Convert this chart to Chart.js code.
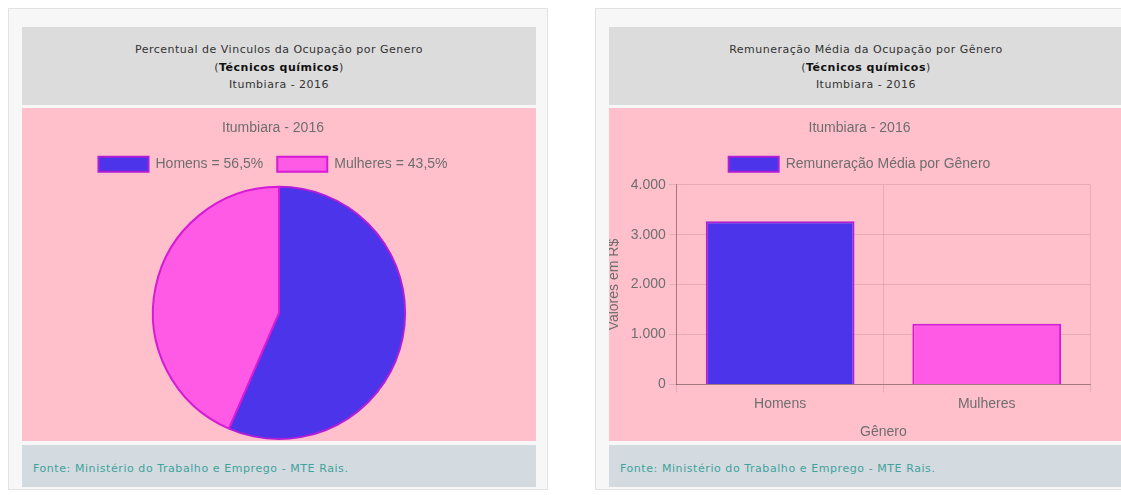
<!DOCTYPE html>
<html lang="pt-BR">
<head>
<meta charset="utf-8">
<title>Técnicos químicos - Itumbiara - 2016</title>
<script src="https://cdn.jsdelivr.net/npm/chart.js@4/dist/chart.umd.min.js"></script>
<style>
  html, body { margin: 0; padding: 0; background: #ffffff; }
  body { width: 1121px; height: 495px; position: relative; overflow: hidden; }
  .card {
    position: absolute; top: 8px; height: 482px; width: 540px;
    background: #f7f7f7; border: 1px solid #e2e2e2; box-sizing: border-box;
  }
  .head {
    position: absolute; left: 13px; top: 18px; width: 514px; height: 78px;
    background: #dcdcdc; text-align: center;
    font-family: "DejaVu Sans", Verdana, sans-serif; font-size: 11px; letter-spacing: 0.5px; color: #333;
    line-height: 17.5px; padding-top: 14px; box-sizing: border-box;
  }
  .head b { color: #111; }
  .body {
    position: absolute; left: 13px; top: 99px; width: 514px; height: 333px;
    background: #ffc0cb;
  }
  .body canvas { margin-top: 2px; }
  .foot {
    position: absolute; left: 13px; top: 436px; width: 514px; height: 42px;
    background: #d3dae0;
    font-family: "DejaVu Sans", Verdana, sans-serif; font-size: 11px; letter-spacing: 0.57px; color: #3fa39c;
    line-height: 42px; padding-left: 11px; padding-top: 3px; box-sizing: border-box;
  }
  canvas { display: block; }
</style>
</head>
<body>
<div class="card" style="left:8px;">
  <div class="head">Percentual de Vinculos da Ocupação por Genero<br>(<b>Técnicos químicos</b>)<br>Itumbiara - 2016</div>
  <div class="body"><canvas id="pie" width="514" height="331"></canvas></div>
  <div class="foot">Fonte: Ministério do Trabalho e Emprego - MTE Rais.</div>
</div>
<div class="card" style="left:595px; width:540px;">
  <div class="head">Remuneração Média da Ocupação por Gênero<br>(<b>Técnicos químicos</b>)<br>Itumbiara - 2016</div>
  <div class="body"><canvas id="bar" width="514" height="331"></canvas></div>
  <div class="foot">Fonte: Ministério do Trabalho e Emprego - MTE Rais.</div>
</div>
<script>
// Dados: Técnicos químicos, Itumbiara, 2016
const chartTitle = 'Itumbiara - 2016';
const genders = ['Homens', 'Mulheres'];
const sharePercent = [56.5, 43.5];
const avgWage = [3270, 1215];
const wageTicks = [0, 1000, 2000, 3000, 4000];
const barSeriesLabel = 'Remuneração Média por Gênero';

const fillColors = ['#4b34ea', '#ff5ae6'];
const edgeColors = ['#b21dd6', '#d61ad6'];
const textColor = '#6e6e6e';
const fontFamily = '"Liberation Sans", Arial, Helvetica, sans-serif';

Chart.defaults.font.family = fontFamily;
Chart.defaults.font.size = 14;
Chart.defaults.color = textColor;
Chart.defaults.animation = false;

function brNumber(v) {
  return String(Math.round(v)).replace(/\B(?=(\d{3})+(?!\d))/g, '.');
}
function brPercent(v) {
  return v.toFixed(1).replace('.', ',') + '%';
}

// Extra space under the legend and a horizontal nudge for title/legend blocks
const headerTweaks = {
  id: 'headerTweaks',
  beforeInit(chart, args, opts) {
    const legend = chart.legend;
    if (legend && opts.legendGap) {
      const fit = legend.fit;
      legend.fit = function () { fit.call(this); this.height += opts.legendGap; };
    }
  },
  afterLayout(chart, args, opts) {
    const dx = opts.dx || 0;
    for (const block of [chart.titleBlock, chart.legend]) {
      if (block && dx) { block.left += dx; block.right += dx; }
    }
  }
};

const titleOptions = {
  display: true, text: chartTitle, color: textColor,
  font: { size: 14, weight: 'normal' },
  padding: { top: 0, bottom: 6 }
};

new Chart(document.getElementById('pie'), {
  type: 'pie',
  data: {
    labels: genders.map((g, i) => g + ' = ' + brPercent(sharePercent[i])),
    datasets: [{
      data: sharePercent,
      backgroundColor: fillColors,
      borderColor: edgeColors,
      borderWidth: 2
    }]
  },
  plugins: [headerTweaks],
  options: {
    responsive: false,
    layout: { padding: { top: 10, bottom: 1 } },
    plugins: {
      headerTweaks: { legendGap: 4, dx: -6 },
      title: titleOptions,
      legend: {
        position: 'top',
        labels: { boxWidth: 50, boxHeight: 15, padding: 14, font: { size: 14 } }
      },
      tooltip: { enabled: false }
    }
  }
});

new Chart(document.getElementById('bar'), {
  type: 'bar',
  data: {
    labels: genders,
    datasets: [{
      label: barSeriesLabel,
      data: avgWage,
      backgroundColor: fillColors,
      borderColor: edgeColors,
      borderWidth: 2
    }]
  },
  plugins: [headerTweaks],
  options: {
    responsive: false,
    layout: { padding: { top: 10, right: 33, bottom: 0, left: 0 } },
    scales: {
      x: {
        grid: { color: 'rgba(0,0,0,0.1)' },
        border: { color: 'rgba(0,0,0,0.3)' },
        ticks: { font: { size: 14 }, color: textColor },
        title: { display: true, text: 'Gênero', font: { size: 14 }, color: textColor, padding: { top: 9, bottom: 0 } }
      },
      y: {
        min: wageTicks[0],
        max: wageTicks[wageTicks.length - 1],
        afterBuildTicks: (axis) => { axis.ticks = wageTicks.map(v => ({ value: v })); },
        grid: { color: 'rgba(0,0,0,0.1)' },
        border: { color: 'rgba(0,0,0,0.3)' },
        ticks: { font: { size: 14 }, color: textColor, callback: (v) => brNumber(v) },
        title: { display: true, text: 'Valores em R$', font: { size: 14 }, color: textColor, padding: { top: -3, bottom: 5 } }
      }
    },
    plugins: {
      headerTweaks: { legendGap: 3, dx: 10 },
      title: titleOptions,
      legend: {
        position: 'top',
        labels: {
          boxWidth: 50, boxHeight: 15, padding: 14, font: { size: 14 },
          generateLabels: () => [{
            text: barSeriesLabel,
            fillStyle: fillColors[0],
            strokeStyle: edgeColors[0],
            fontColor: textColor,
            lineWidth: 2,
            datasetIndex: 0
          }]
        }
      },
      tooltip: { enabled: false }
    }
  }
});
</script>
</body>
</html>
